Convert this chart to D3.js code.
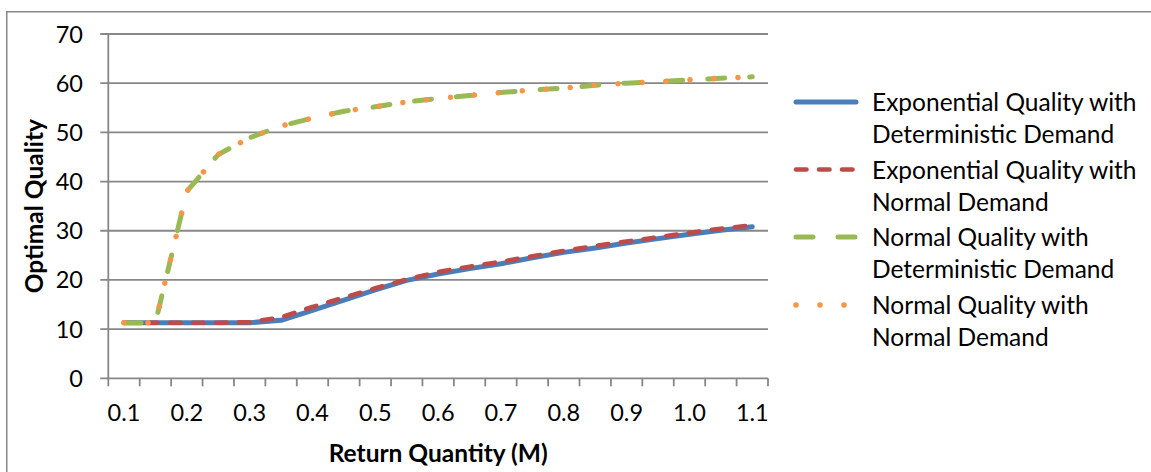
<!DOCTYPE html>
<html>
<head>
<meta charset="utf-8">
<script src="https://cdn.jsdelivr.net/npm/d3@7"></script>
<style>
  body { margin: 0; background: #fff; }
  svg text { font-family: Lato, "Open Sans", sans-serif; fill: #000; }
</style>
</head>
<body>
<svg id="chart" width="1151" height="472"></svg>
<script>
// Return quantity categories (M)
const returnQty = ["0.10","0.15","0.20","0.25","0.30","0.35","0.40","0.45","0.50","0.55",
                   "0.60","0.65","0.70","0.75","0.80","0.85","0.90","0.95","1.00","1.05","1.10"];

// Optimal quality for each scenario
const expQualityDetDemand  = [11.3,11.3,11.3,11.3,11.3,11.8,13.8,15.9,18.0,19.9,21.2,22.3,23.3,24.5,25.6,26.5,27.5,28.4,29.3,30.1,30.8];
const expQualityNormDemand = [11.3,11.3,11.3,11.3,11.4,12.4,14.5,16.4,18.3,20.1,21.6,22.7,23.7,24.8,25.9,26.9,27.8,28.7,29.6,30.4,31.1];
const normQualityDetDemand = [11.3,11.3,38.0,45.5,48.9,51.3,52.9,54.3,55.2,56.2,56.9,57.5,58.1,58.6,59.0,59.6,60.0,60.3,60.7,61.0,61.3];
const normQualityNormDemand= [11.3,11.3,38.0,45.5,48.9,51.3,52.9,54.3,55.2,56.2,56.9,57.5,58.1,58.6,59.0,59.6,60.0,60.3,60.7,61.0,61.3];

const yTickValues = [0,10,20,30,40,50,60,70];
const xTickLabels = ["0.1","0.2","0.3","0.4","0.5","0.6","0.7","0.8","0.9","1.0","1.1"];

const seriesNames = [
  ["Exponential Quality with", "Deterministic Demand"],
  ["Exponential Quality with", "Normal Demand"],
  ["Normal Quality with", "Deterministic Demand"],
  ["Normal Quality with", "Normal Demand"]
];

const GRID = "#878787";
const TICK_FONT = 23.5;
const TEXT_FONT = 24.5;

const svg = d3.select("#chart");
const plot = { left: 108.3, right: 768, top: 34, bottom: 378.3 };

const x = d3.scaleBand().domain(returnQty).range([plot.left, plot.right]).padding(0);
const y = d3.scaleLinear().domain([0, 70]).range([plot.bottom, plot.top]);
const bw = x.bandwidth();
const cx = c => x(c) + bw / 2;

// outer chart frame
svg.append("rect")
  .attr("x", 6.75).attr("y", 11.75)
  .attr("width", 1200).attr("height", 500)
  .attr("fill", "none").attr("stroke", GRID).attr("stroke-width", 1.5);

// horizontal gridlines with outside ticks
svg.append("g").selectAll("line").data(yTickValues).join("line")
  .attr("x1", plot.left - 8).attr("x2", plot.right)
  .attr("y1", d => y(d)).attr("y2", d => y(d))
  .attr("stroke", GRID).attr("stroke-width", 1.8);

// y axis line
svg.append("line")
  .attr("x1", plot.left).attr("x2", plot.left)
  .attr("y1", plot.top).attr("y2", plot.bottom)
  .attr("stroke", GRID).attr("stroke-width", 1.8);

// y tick labels
svg.append("g").selectAll("text").data(yTickValues).join("text")
  .attr("x", 83).attr("y", d => y(d) + 8.5)
  .attr("text-anchor", "end")
  .style("font-size", TICK_FONT + "px")
  .text(d => d);

// x tick marks at category boundaries
const boundaries = returnQty.map(c => x(c)).concat([x.range()[1]]);
svg.append("g").selectAll("line").data(boundaries).join("line")
  .attr("x1", d => d).attr("x2", d => d)
  .attr("y1", plot.bottom).attr("y2", plot.bottom + 8)
  .attr("stroke", GRID).attr("stroke-width", 1.8);

// x tick labels on every second category
svg.append("g").selectAll("text").data(xTickLabels).join("text")
  .attr("x", (d, i) => cx(returnQty[i * 2]))
  .attr("y", 421)
  .attr("text-anchor", "middle")
  .style("font-size", TICK_FONT + "px")
  .text(d => d);

// axis titles
svg.append("text")
  .attr("x", (plot.left + plot.right) / 2).attr("y", 461.5)
  .attr("text-anchor", "middle")
  .style("font-size", TEXT_FONT + "px").style("font-weight", "bold")
  .text("Return Quantity (M)");

svg.append("text")
  .attr("transform", `translate(42.5,${(plot.top + plot.bottom) / 2}) rotate(-90)`)
  .attr("text-anchor", "middle")
  .style("font-size", TEXT_FONT + "px").style("font-weight", "bold")
  .text("Optimal Quality");

// series styling
const styles = [
  { color: "#4A7EBB", width: 5,   dash: null,        cap: "round" },
  { color: "#BE4B48", width: 4.6, dash: "10.5,12.5", cap: "round" },
  { color: "#98B954", width: 5,   dash: "17,25",     cap: "round" },
  { color: "#F79646", width: 5.5, dash: "0.01,24",   cap: "round" }
];
const seriesValues = [expQualityDetDemand, expQualityNormDemand, normQualityDetDemand, normQualityNormDemand];

const line = d3.line().x(d => cx(d.c)).y(d => y(d.v));

seriesValues.forEach((vals, k) => {
  const pts = vals.map((v, i) => ({ c: returnQty[i], v }));
  const s = styles[k];
  svg.append("path")
    .attr("d", line(pts))
    .attr("fill", "none")
    .attr("stroke", s.color)
    .attr("stroke-width", s.width)
    .attr("stroke-linecap", s.cap)
    .attr("stroke-linejoin", "round")
    .attr("stroke-dasharray", s.dash);
});

// legend
const legendY = [102, 169.5, 237, 305];
const legend = svg.append("g");
seriesNames.forEach((name, k) => {
  const s = styles[k];
  const ly = legendY[k];
  legend.append("line")
    .attr("x1", 796).attr("x2", 856)
    .attr("y1", ly).attr("y2", ly)
    .attr("stroke", s.color)
    .attr("stroke-width", s.width)
    .attr("stroke-linecap", s.cap)
    .attr("stroke-dasharray", s.dash);
  name.forEach((t, j) => {
    legend.append("text")
      .attr("x", 872).attr("y", ly + 9 + j * 32)
      .style("font-size", TEXT_FONT + "px")
      .text(t);
  });
});
</script>
</body>
</html>
